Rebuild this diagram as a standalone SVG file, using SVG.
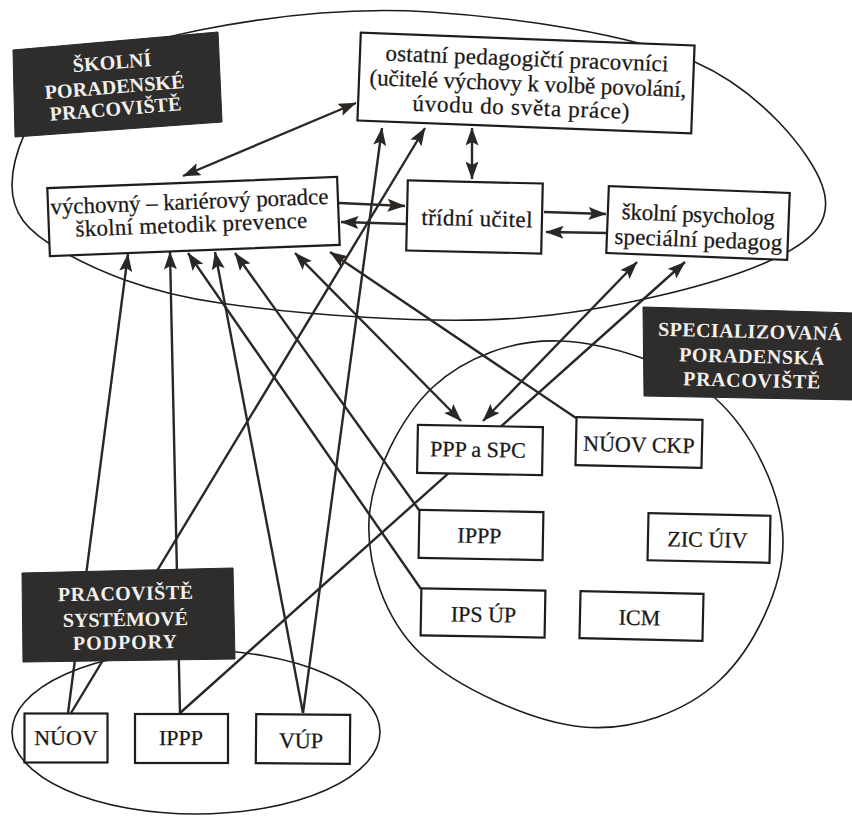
<svg xmlns="http://www.w3.org/2000/svg" width="852" height="818" viewBox="0 0 852 818">
<defs>
<style>
.ell{fill:none;stroke:#1f1d1c;stroke-width:1.6}
.box{fill:#fff;stroke:#1f1d1c;stroke-width:2.2}
.dark{fill:#2f2d2b;stroke:#2a2827;stroke-width:1}
.t{font-family:"Liberation Serif","DejaVu Serif","Times New Roman",serif;font-size:22px;fill:#1a1817;stroke:#1a1817;stroke-width:0.25;text-anchor:middle}
.tl{font-family:"Liberation Serif","DejaVu Serif","Times New Roman",serif;font-size:23px;fill:#1a1817;stroke:#1a1817;stroke-width:0.25;text-anchor:middle}
.dt{font-family:"Liberation Serif","DejaVu Serif","Times New Roman",serif;font-size:20px;font-weight:bold;fill:#f2f0ed;text-anchor:middle}
.c line{fill:none;stroke:#2a2725;stroke-width:2.4}
</style>
<marker id="ah" viewBox="0 0 18 13" markerWidth="18" markerHeight="13" refX="17.5" refY="6.5" orient="auto-start-reverse" markerUnits="userSpaceOnUse"><path d="M0,0 L18,6.5 L0,13 L3.5,6.5 z" fill="#2a2725"/></marker>
</defs>
<rect width="852" height="818" fill="#fff"/>
<g id="areas">
<path id="area-skolni" class="ell" d="M430,12 C512.5,17.3 629.7,33.2 695,62 C760.3,90.8 810,151.7 822,185 C834,218.3 817.3,239.8 767,262 C716.7,284.2 611.2,311.2 520,318 C428.8,324.8 296.7,314.3 220,303 C143.3,291.7 94.7,269.7 60,250 C25.3,230.3 12,212.5 12,185 C12,157.5 28.7,110.8 60,85 C91.3,59.2 138.3,42.2 200,30 C261.7,17.8 347.5,6.7 430,12 Z"/>
<path id="area-special" class="ell" d="M560,341 C607,342.8 677.8,364.8 715,398 C752.2,431.2 782.2,493 783,540 C783.8,587 753.3,648.8 720,680 C686.7,711.2 633,731.5 583,727 C533,722.5 455.7,687.5 420,653 C384.3,618.5 366.8,564.3 369,520 C371.2,475.7 401.2,416.8 433,387 C464.8,357.2 513,339.2 560,341 Z"/>
<ellipse id="area-system" class="ell" cx="196" cy="732" rx="184" ry="82"/>
</g>
<g id="connectors" class="c">
<line x1="68" y1="713" x2="128" y2="254" marker-end="url(#ah)"/>
<line x1="180" y1="713" x2="170" y2="252" marker-end="url(#ah)"/>
<line x1="421" y1="589" x2="188" y2="253" marker-end="url(#ah)"/>
<line x1="303" y1="713" x2="215" y2="252" marker-end="url(#ah)"/>
<line x1="419" y1="510" x2="235" y2="253" marker-end="url(#ah)"/>
<line x1="295" y1="253" x2="461" y2="421" marker-start="url(#ah)" marker-end="url(#ah)"/>
<line x1="576" y1="418" x2="330" y2="252" marker-end="url(#ah)"/>
<line x1="303" y1="713" x2="382" y2="128" marker-end="url(#ah)"/>
<line x1="71" y1="713" x2="425" y2="128" marker-end="url(#ah)"/>
<line x1="637" y1="262" x2="483" y2="421" marker-start="url(#ah)" marker-end="url(#ah)"/>
<line x1="180" y1="713" x2="685" y2="262" marker-end="url(#ah)"/>
<line x1="183" y1="176" x2="356" y2="103" marker-start="url(#ah)" marker-end="url(#ah)"/>
<line x1="472" y1="128" x2="472" y2="179" marker-start="url(#ah)" marker-end="url(#ah)"/>
<line x1="339" y1="203" x2="405" y2="206" marker-end="url(#ah)"/>
<line x1="407" y1="224" x2="341" y2="222" marker-end="url(#ah)"/>
<line x1="544" y1="212" x2="606" y2="214" marker-end="url(#ah)"/>
<line x1="607" y1="233" x2="546" y2="232" marker-end="url(#ah)"/>
</g>
<g id="label-skolni">
<polygon class="dark" points="13,50 218,32 222,122 15,137"/>
<text class="dt" x="112.5" y="69" textLength="79" transform="rotate(-4.6 112.5 69)">ŠKOLNÍ</text>
<text class="dt" x="115" y="93.5" textLength="140" transform="rotate(-4.6 115 93.5)">PORADENSKÉ</text>
<text class="dt" x="116" y="115.5" textLength="132" transform="rotate(-4.6 116 115.5)">PRACOVIŠTĚ</text>
</g>
<g id="label-special">
<polygon class="dark" points="643,307 856,313 856,400 644,396"/>
<text class="dt" x="750" y="338" textLength="184" transform="rotate(1.4 750 338)">SPECIALIZOVANÁ</text>
<text class="dt" x="751.5" y="363" textLength="145" transform="rotate(1.4 751.5 363)">PORADENSKÁ</text>
<text class="dt" x="751.5" y="387" textLength="137" transform="rotate(1.4 751.5 387)">PRACOVIŠTĚ</text>
</g>
<g id="label-system">
<polygon class="dark" points="22,573 233,568 235,659 23,662"/>
<text class="dt" x="125.5" y="600" textLength="135" transform="rotate(-1 125.5 600)">PRACOVIŠTĚ</text>
<text class="dt" x="125.5" y="626" textLength="125" transform="rotate(-1 125.5 626)">SYSTÉMOVÉ</text>
<text class="dt" x="125" y="649" textLength="104" transform="rotate(-1 125 649)">PODPORY</text>
</g>
<g id="n-ostatni" transform="rotate(2.2 526 83)">
<rect class="box" x="359" y="39" width="334" height="88"/>
<text class="tl" x="526" y="66" textLength="283">ostatní pedagogičtí pracovníci</text>
<text class="tl" x="528" y="91" textLength="317">(učitelé výchovy k volbě povolání,</text>
<text class="tl" x="522" y="115" textLength="217">úvodu do světa práce)</text>
</g>
<g id="n-vychovny" transform="rotate(-2.2 193.5 216.5)">
<rect class="box" x="48.5" y="182.5" width="290" height="68"/>
<text class="tl" x="190" y="209" textLength="278">výchovný – kariérový poradce</text>
<text class="tl" x="191" y="232" textLength="232">školní metodik prevence</text>
</g>
<g id="n-tridni" transform="rotate(1.3 474.5 217)">
<rect class="box" x="407" y="182" width="135" height="70"/>
<text class="tl" x="477" y="226" textLength="111">třídní učitel</text>
</g>
<g id="n-psycholog" transform="rotate(2.2 698 223)">
<rect class="box" x="607.5" y="189.5" width="181" height="67"/>
<text class="tl" x="698" y="222" textLength="153">školní psycholog</text>
<text class="tl" x="699" y="247" textLength="168">speciální pedagog</text>
</g>
<g id="n-ppp" transform="rotate(1 480 450)">
<rect class="box" x="417.5" y="426" width="125" height="48"/>
<text class="t" x="478" y="457">PPP a SPC</text>
</g>
<g id="n-nuovckp" transform="rotate(1.3 639 442.5)">
<rect class="box" x="576" y="418.5" width="126" height="48"/>
<text class="t" x="639" y="452">NÚOV CKP</text>
</g>
<g id="n-ippp-spec" transform="rotate(1 481 535)">
<rect class="box" x="419" y="511" width="124" height="48"/>
<text class="t" x="479.5" y="543">IPPP</text>
</g>
<g id="n-zic" transform="rotate(1.2 709 538)">
<rect class="box" x="648" y="514.5" width="122" height="47"/>
<text class="t" x="707.5" y="547">ZIC ÚIV</text>
</g>
<g id="n-ipsup" transform="rotate(1 483 613)">
<rect class="box" x="421" y="589.5" width="124" height="47"/>
<text class="t" x="483.5" y="622">IPS ÚP</text>
</g>
<g id="n-icm" transform="rotate(1.3 641.5 616)">
<rect class="box" x="580" y="592.5" width="123" height="47"/>
<text class="t" x="639.5" y="625">ICM</text>
</g>
<g id="n-nuov">
<rect class="box" x="24.5" y="713.5" width="83" height="49"/>
<text class="t" x="66" y="745">NÚOV</text>
</g>
<g id="n-ippp-sys">
<rect class="box" x="135" y="714" width="93" height="49"/>
<text class="t" x="181" y="745">IPPP</text>
</g>
<g id="n-vup" transform="rotate(0.5 303 739)">
<rect class="box" x="256" y="714.5" width="94" height="49"/>
<text class="t" x="301" y="748">VÚP</text>
</g>
</svg>
